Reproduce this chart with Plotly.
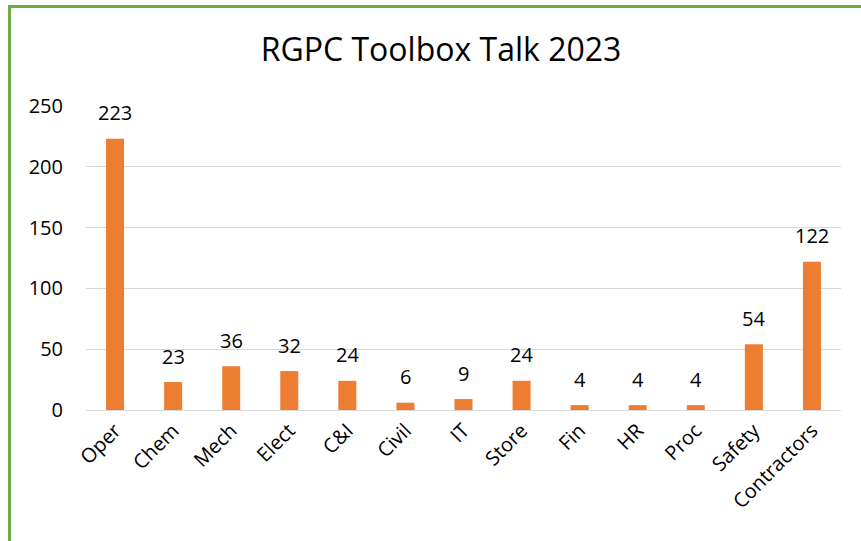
import plotly.graph_objects as go

categories = ["Oper", "Chem", "Mech", "Elect", "C&I", "Civil", "IT", "Store",
              "Fin", "HR", "Proc", "Safety", "Contractors"]
values = [223, 23, 36, 32, 24, 6, 9, 24, 4, 4, 4, 54, 122]
y_ticks = [0, 50, 100, 150, 200, 250]
title_text = "RGPC Toolbox Talk 2023"

W, H = 861, 541
L, R, T, B = 86, 20, 106, 131
pw, ph = W - L - R, H - T - B

def px_x(x):  # page pixel -> paper
    return (x - L) / pw

def px_y(y):
    return (H - B - y) / ph

fig = go.Figure()
fig.add_trace(go.Bar(
    x=categories, y=values,
    marker=dict(color="#ED7D31", line=dict(width=0)),
    cliponaxis=False,
    hoverinfo="x+y",
))

for c, v in zip(categories, values):
    fig.add_annotation(x=c, y=v, text=str(v), showarrow=False,
                       yanchor="middle", yshift=26,
                       font=dict(size=20, color="#000000", family="Open Sans"))

green = "#70AD47"
fig.add_shape(type="line", xref="paper", yref="paper",
              x0=px_x(9.5), x1=px_x(9.5), y0=px_y(5), y1=px_y(560),
              line=dict(color=green, width=3))
fig.add_shape(type="line", xref="paper", yref="paper",
              x0=px_x(8), x1=px_x(880), y0=px_y(6.5), y1=px_y(6.5),
              line=dict(color=green, width=3))

fig.update_layout(
    width=W, height=H,
    margin=dict(l=L, r=R, t=T, b=B, autoexpand=False),
    paper_bgcolor="white", plot_bgcolor="white",
    title=dict(text=title_text, x=441 / W, xanchor="center",
               y=1 - 50 / H, yanchor="middle",
               font=dict(size=32, color="#000000", family="Open Sans")),
    bargap=0.69,
    showlegend=False,
    font=dict(family="Open Sans", color="#000000"),
)
fig.update_xaxes(tickangle=-45, tickfont=dict(size=20, color="#000000"),
                 showline=True, linecolor="#D9D9D9", linewidth=1,
                 ticks="", showgrid=False, automargin=False)
fig.update_yaxes(range=[0, 250], tickvals=y_ticks,
                 tickfont=dict(size=20, color="#000000"),
                 showgrid=True, gridcolor="#D9D9D9", gridwidth=1,
                 zeroline=True, zerolinecolor="#D9D9D9", zerolinewidth=1,
                 showline=False, ticks="", ticklabelstandoff=22,
                 automargin=False)

fig.write_html(
    "out.html",
    config={"displayModeBar": False},
    post_script="document.body.style.margin='0';document.body.style.overflow='hidden';",
)
